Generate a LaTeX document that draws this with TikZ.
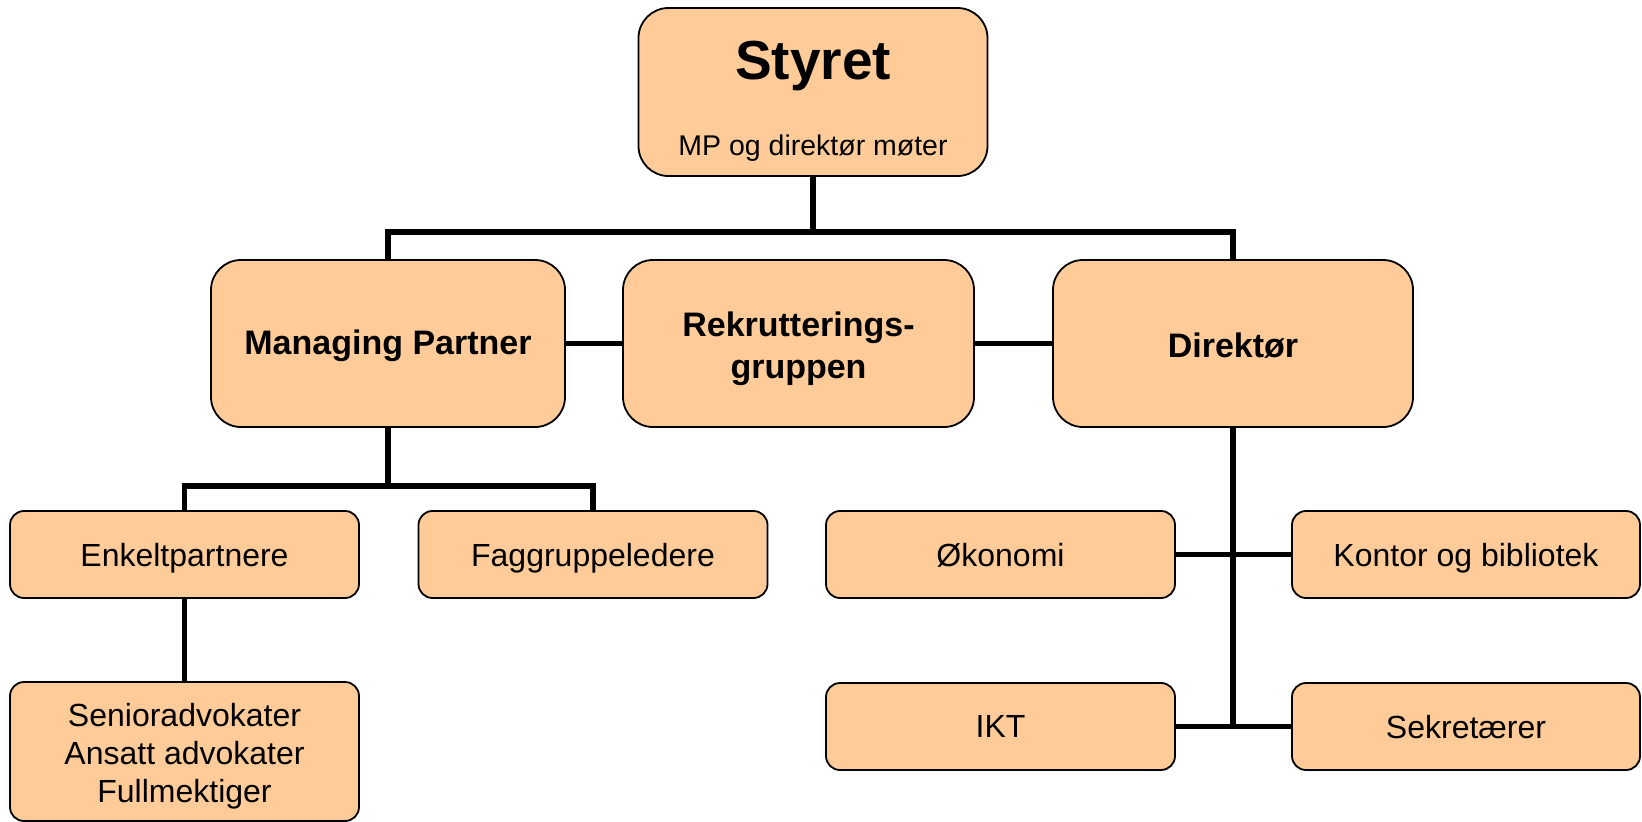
\documentclass[tikz,border=0pt]{standalone}
\usepackage{fontspec}
\setmainfont{Liberation Sans}
\definecolor{peach}{RGB}{255,204,153}
\tikzset{
  box/.style={draw=black, line width=1.8pt, fill=peach, inner sep=0pt, align=center},
  bigbox/.style={box, rounded corners=30pt, minimum height=167pt},
  smallbox/.style={box, rounded corners=14pt, minimum width=349pt, minimum height=87pt, font=\fontsize{32}{38}\selectfont, text depth=0pt},
  conn/.style={line width=5.5pt},
  boldtxt/.style={font=\bfseries\fontsize{34}{42}\selectfont, align=center}
}
\begin{document}
\begin{tikzpicture}[x=1pt,y=-1pt]
\useasboundingbox (0,0) rectangle (1642,822);
% boxes
\node[bigbox, minimum width=349pt, minimum height=168pt] (st) at (813,92) {};
\node[font=\bfseries\fontsize{55}{64}\selectfont] (sttitle) at (813,66) {Styret};
\node[font=\fontsize{28.5}{34}\selectfont] (stsub) at (813,148) {MP og direktør møter};
\node[bigbox, minimum width=354pt] (mp) at (388,343.5) {};
\node[boldtxt] (mptxt) at (388,346) {Managing Partner};
\node[bigbox, minimum width=351pt] (rk) at (798.5,343.5) {};
\node[boldtxt] (rktxt) at (798.5,349) {Rekrutterings-\\gruppen};
\node[bigbox, minimum width=360pt] (dk) at (1233,343.5) {};
\node[boldtxt] (dktxt) at (1233,346) {Direktør};
\node[smallbox] (en) at (184.5,554.5) {Enkeltpartnere};
\node[smallbox] (fg) at (593,554.5) {Faggruppeledere};
\node[smallbox, minimum height=139pt, font=\fontsize{32}{38}\selectfont] (sa) at (184.5,751.5) {};
\node[font=\fontsize{32}{38}\selectfont, align=center] (satxt) at (184.5,756) {Senioradvokater\\Ansatt advokater\\Fullmektiger};
\node[smallbox] (ok) at (1000.5,554.5) {Økonomi};
\node[smallbox, minimum width=348pt] (ko) at (1466,554.5) {Kontor og bibliotek};
\node[smallbox] (ik) at (1000.5,726.5) {IKT};
\node[smallbox, minimum width=348pt] (se) at (1466,726.5) {Sekretærer};
% junctions
\coordinate (j1) at (813,232);
\coordinate (j2) at (388,486);
% connectors
\draw[conn] (st.south) -- (j1);
\draw[conn] (mp.north) -- (mp.north |- j1) -- (dk.north |- j1) -- (dk.north);
\draw[conn] (mp.east) -- (rk.west);
\draw[conn] (rk.east) -- (dk.west);
\draw[conn] (mp.south) -- (j2);
\draw[conn] (en.north) -- (en.north |- j2) -- (fg.north |- j2) -- (fg.north);
\draw[conn] (en.south) -- (sa.north);
\draw[conn] (dk.south) -- (dk.south |- ik.east);
\draw[conn] (ok.east) -- (ko.west);
\draw[conn] (ik.east) -- (se.west);
\end{tikzpicture}
\end{document}
